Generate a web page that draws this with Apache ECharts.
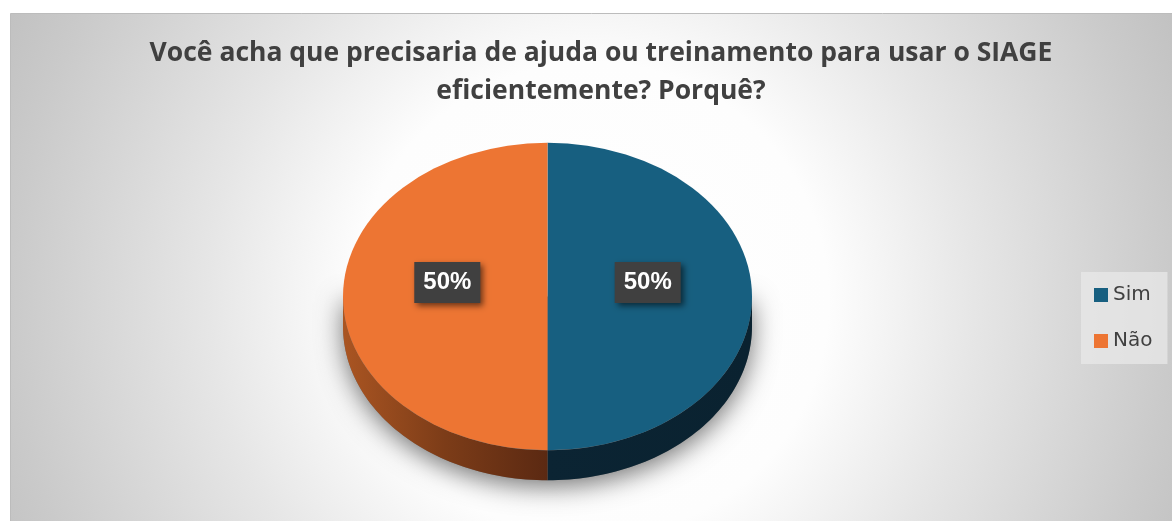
<!DOCTYPE html>
<html>
<head>
<meta charset="utf-8">
<title>SIAGE</title>
<script src="https://cdn.jsdelivr.net/npm/echarts@6/dist/echarts.min.js"></script>
<style>
html, body { margin: 0; padding: 0; background: #ffffff; }
#Charts { width: 1172px; height: 521px; }
</style>
</head>
<body>
<div id="Charts"></div>
<script>
// dados do grafico
var categories = ['Sim', 'Não'];
var values = [50, 50];
var colors = ['#175f80', '#ed7533'];
var titleText = 'Você acha que precisaria de ajuda ou treinamento para usar o SIAGE\neficientemente? Porquê?';

// layout da pizza 3D (elipse)
var CX = 547.5, CY = 296.5, RX = 204.5, RY = 153.8, DEPTH = 30;

var total = values.reduce(function (a, b) { return a + b }, 0);

function arcPts(a, b, dy) {
	let pts = [];
	let n = 60;
	for (let k = 0; k <= n; k++) {
		let t = a + (b - a) * k / n;
		pts.push([CX + RX * Math.cos(t), CY + dy + RY * Math.sin(t)]);
	}
	return pts;
}

var sideColors = [
	new echarts.graphic.LinearGradient(0, 0, 1, 0, [
		{ offset: 0, color: '#0b2433' },
		{ offset: 1, color: '#0a2230' }
	]),
	new echarts.graphic.LinearGradient(0, 0, 1, 0, [
		{ offset: 0, color: '#aa5522' },
		{ offset: 0.5, color: '#7c3c18' },
		{ offset: 1, color: '#5b2912' }
	])
];

function renderSlice(idx) {
	return function (params, api) {
		let before = 0;
		for (let i = 0; i < idx; i++) before += values[i];
		let start = before / total * Math.PI * 2 - Math.PI / 2;
		let end = (before + values[idx]) / total * Math.PI * 2 - Math.PI / 2;
		let children = [];

		// sombra (so uma vez)
		if (idx === 0) {
			let sh = arcPts(0, Math.PI, DEPTH);
			sh.push([CX - RX, CY]);
			sh.push([CX + RX, CY]);
			children.push({
				type: 'polygon',
				z2: 0,
				shape: { points: sh },
				style: {
					fill: '#777777',
					shadowBlur: 26,
					shadowColor: 'rgba(0,0,0,0.55)',
					shadowOffsetY: 6
				}
			});
		}

		// lateral visivel (metade de baixo)
		let a = Math.max(start, 0);
		let b = Math.min(end, Math.PI);
		if (b > a) {
			let top = arcPts(a, b, 0);
			let bot = arcPts(a, b, DEPTH).reverse();
			children.push({
				type: 'polygon',
				z2: 1,
				shape: { points: top.concat(bot) },
				style: { fill: sideColors[idx] }
			});
		}

		// face de cima
		children.push({
			type: 'sector',
			z2: 2,
			originX: CX,
			originY: CY,
			scaleY: RY / RX,
			shape: { cx: CX, cy: CY, r0: 0, r: RX, startAngle: start, endAngle: end, clockwise: true },
			style: { fill: colors[idx] }
		});

		// rotulo
		let mid = (start + end) / 2;
		let pct = Math.round(values[idx] / total * 100) + '%';
		children.push({
			type: 'text',
			z2: 3,
			x: CX + 0.49 * RX * Math.cos(mid),
			y: CY + 0.49 * RY * Math.sin(mid) - 14,
			style: {
				text: pct,
				fill: '#ffffff',
				font: 'bold 24px "Liberation Sans", Arial, sans-serif',
				align: 'center',
				verticalAlign: 'middle',
				lineHeight: 24,
				backgroundColor: '#404040',
				padding: [9, 9, 8, 9],
				shadowBlur: 6,
				shadowColor: 'rgba(0,0,0,0.55)',
				shadowOffsetX: 3,
				shadowOffsetY: 3
			}
		});

		return { type: 'group', children: children };
	};
}

var chart = echarts.init(document.getElementById('Charts'));

var seriesList = [];
for (var i = 0; i < categories.length; i++) {
	seriesList.push({
		name: categories[i],
		type: 'custom',
		coordinateSystem: 'none',
		itemStyle: { color: colors[i] },
		renderItem: renderSlice(i),
		data: [values[i]],
		silent: true
	});
}

var option = {
	backgroundColor: '#ffffff',
	animation: false,
	graphic: [
		{
			type: 'rect',
			z: -10,
			silent: true,
			shape: { x: 10.5, y: 13.5, width: 1170, height: 520 },
			style: {
				fill: new echarts.graphic.RadialGradient(591, 300, 660, [
					{ offset: 0, color: '#ffffff' },
					{ offset: 0.36, color: '#fdfdfd' },
					{ offset: 0.58, color: '#e6e6e6' },
					{ offset: 0.74, color: '#d7d7d7' },
					{ offset: 0.88, color: '#cacaca' },
					{ offset: 1, color: '#c0c0c0' }
				], true),
				stroke: '#bcbcbc',
				lineWidth: 1
			}
		}
	],
	title: {
		text: titleText,
		left: 596,
		top: 29,
		textAlign: 'center',
		textStyle: {
			color: '#404040',
			fontSize: 26.5,
			fontWeight: 'bold',
			fontFamily: '"Open Sans", sans-serif',
			lineHeight: 38
		}
	},
	legend: {
		orient: 'vertical',
		left: 1081,
		top: 272,
		padding: [13, 15, 13, 13],
		backgroundColor: 'rgba(232,232,232,0.75)',
		icon: 'rect',
		itemWidth: 14,
		itemHeight: 14,
		itemGap: 26,
		data: categories,
		textStyle: {
			color: '#404040',
			fontSize: 20,
			fontFamily: '"DejaVu Sans", sans-serif'
		}
	},
	series: seriesList
};

chart.setOption(option);
</script>
</body>
</html>
